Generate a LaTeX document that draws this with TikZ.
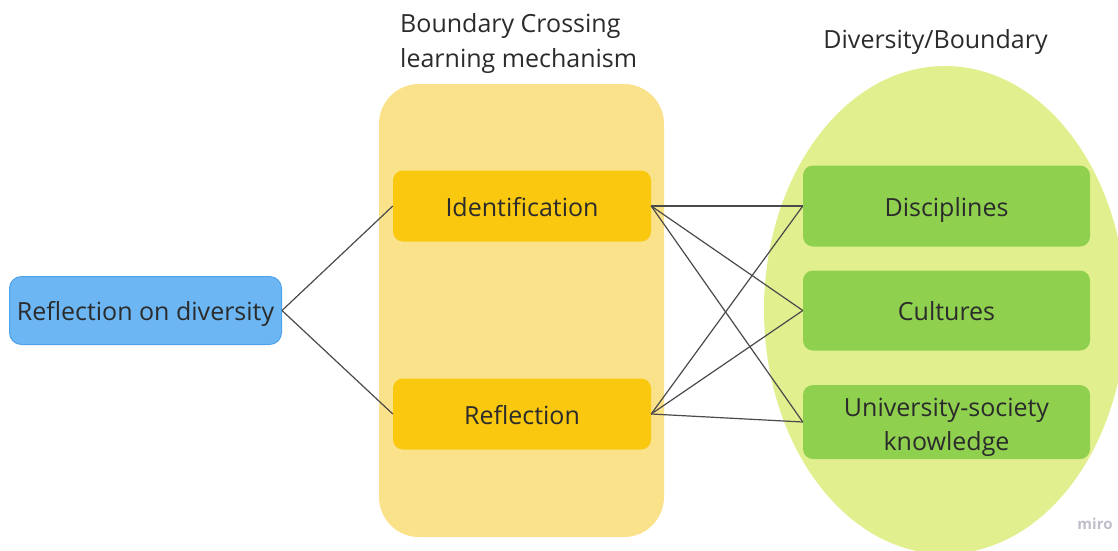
\documentclass[tikz,border=0pt]{standalone}
\usepackage{fontspec}
\setmainfont{Open Sans}
\definecolor{ink}{HTML}{2B2B2B}
\definecolor{wire}{HTML}{4A4A4A}
\definecolor{zonebg}{HTML}{E2EF8E}
\definecolor{mechbg}{HTML}{FAE28A}
\definecolor{mechbox}{HTML}{F9C80F}
\definecolor{greenbox}{HTML}{8FD14F}
\definecolor{bluebox}{HTML}{6CB7F3}
\definecolor{blueedge}{HTML}{4FA3EA}
\definecolor{brand}{HTML}{C0BECB}
\tikzset{
  lbl/.style={text=ink, font=\fontsize{25}{34}\selectfont, inner sep=0pt},
  card/.style={lbl, rounded corners=10pt, align=center,
               text height=20pt, text depth=0pt},
  mechcard/.style={card, fill=mechbox, minimum width=258pt, minimum height=71pt},
  zonecard/.style={card, fill=greenbox, minimum width=287pt},
  link/.style={draw=wire, line width=1.2pt}
}
\begin{document}
\begin{tikzpicture}[x=1pt,y=-1pt]
\useasboundingbox (0,0) rectangle (1118,550);
\begin{scope}
  \clip (0,0) rectangle (1118,550);
  % background regions
  \fill[zonebg] (945,310) ellipse [x radius=181, y radius=244];
  \fill[mechbg, rounded corners=40pt] (379,84) rectangle (664,537);
\end{scope}

% titles
\node[lbl, anchor=base west] (ttlmechA) at (400,32) {Boundary Crossing};
\node[lbl, anchor=base west] (ttlmechB) at (400,67) {learning mechanism};
\node[lbl, anchor=base] (ttlzone) at (935.5,48) {Diversity/Boundary};

% source node
\node[card, fill=bluebox, draw=blueedge, line width=1pt, rounded corners=12pt,
      minimum width=272pt, minimum height=68pt] (src) at (145.5,310.5) {Reflection on diversity};

% mechanism nodes
\node[mechcard] (ident) at (522,206) {Identification};
\node[mechcard] (refl) at (522,414) {Reflection};

% diversity nodes
\node[zonecard, minimum height=81pt] (disc) at (946.5,206) {Disciplines};
\node[zonecard, minimum height=80pt] (cult) at (946.5,310.5) {Cultures};
\node[zonecard, text height=, text depth=, minimum height=74pt] (univ) at (946.5,422)
  {\rule{0pt}{28pt}University-society\\knowledge};

% connectors
\draw[link] (src.east) -- (ident.west);
\draw[link] (src.east) -- (refl.west);
\foreach \m in {ident,refl}{
  \foreach \z in {disc,cult,univ}{
    \draw[link] (\m.east) -- (\z.west);
  }
}

\node[text=brand, font=\fontsize{15}{15}\selectfont\bfseries, inner sep=0pt, anchor=base] (brandmark) at (1095,529) {miro};
\end{tikzpicture}
\end{document}
